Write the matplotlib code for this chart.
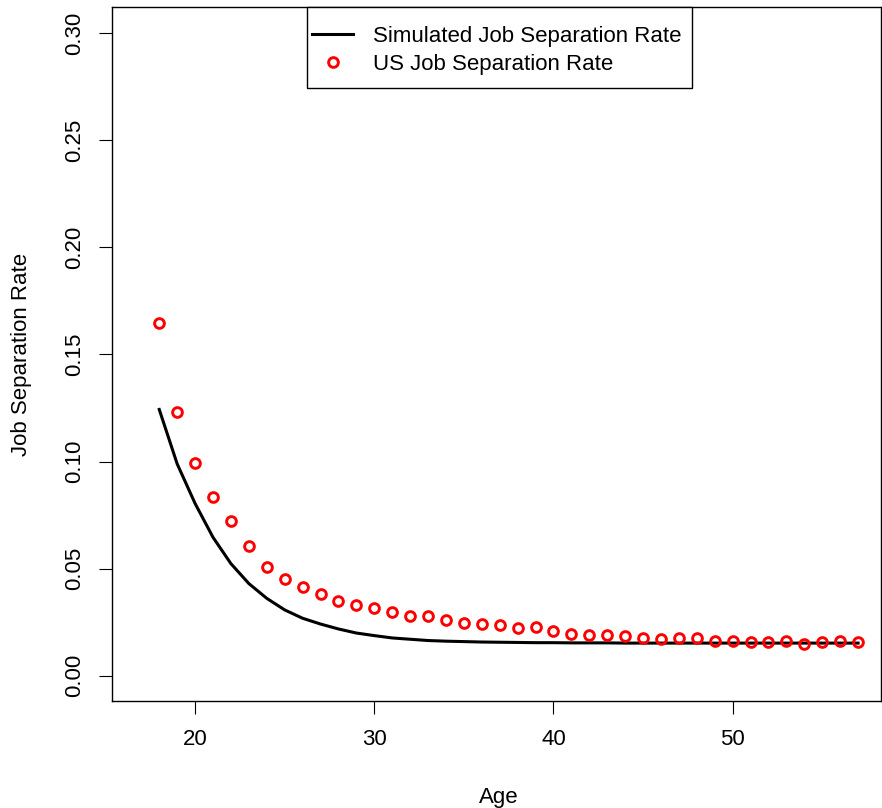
import matplotlib
matplotlib.use("Agg")
import matplotlib.pyplot as plt
from matplotlib.lines import Line2D
from matplotlib.patches import Rectangle

plt.rcParams['font.family'] = ['Liberation Sans', 'DejaVu Sans']

ages = list(range(18, 58))
us_rate = [0.1645, 0.1229, 0.0991, 0.0832, 0.0720, 0.0607, 0.0509, 0.0453, 0.0416, 0.0383,
           0.0350, 0.0332, 0.0318, 0.0299, 0.0280, 0.0280, 0.0262, 0.0248, 0.0243, 0.0238,
           0.0224, 0.0229, 0.0210, 0.0196, 0.0192, 0.0189, 0.0185, 0.0178, 0.0173, 0.0178,
           0.0174, 0.0164, 0.0164, 0.0158, 0.0159, 0.0164, 0.0149, 0.0157, 0.0163, 0.0156]
sim_rate = [0.1243, 0.0989, 0.0804, 0.0646, 0.0523, 0.0430, 0.0361, 0.0307, 0.0268, 0.0241,
            0.0218, 0.0199, 0.0187, 0.0176, 0.0170, 0.0164, 0.0161, 0.0159, 0.0157, 0.0156,
            0.0155, 0.0154, 0.0154, 0.0153, 0.0153, 0.0153, 0.0152, 0.0152, 0.0152, 0.0152,
            0.0152, 0.0152, 0.0152, 0.0152, 0.0152, 0.0152, 0.0152, 0.0152, 0.0152, 0.0152]
x_ticks = [20, 30, 40, 50]
y_ticks = [0.00, 0.05, 0.10, 0.15, 0.20, 0.25, 0.30]
y_tick_labels = ["0.00", "0.05", "0.10", "0.15", "0.20", "0.25", "0.30"]
legend_labels = ["Simulated Job Separation Rate", "US Job Separation Rate"]

W, H = 882, 808
FS = 16
fig = plt.figure(figsize=(W / 100, H / 100), dpi=100)
ax = fig.add_axes([112.3 / W, 1 - 700.7 / H, (881 - 112.3) / W, (700.7 - 7.3) / H])

ax.plot(ages, sim_rate, color='black', lw=2.2)
ax.plot(ages, us_rate, linestyle='none', marker='o', ms=7, mew=2.1,
        markerfacecolor='none', markeredgecolor='red')

ax.set_xlim(15.38, 58.28)
ax.set_ylim(-0.0117, 0.3121)
ax.set_xticks(x_ticks)
ax.set_xticklabels([str(t) for t in x_ticks])
ax.set_yticks(y_ticks)
ax.set_yticklabels(y_tick_labels, rotation=90, va='center')
ax.tick_params(axis='both', direction='out', length=9.5, width=0.8, labelsize=FS, colors='black')
ax.tick_params(axis='x', pad=11)
ax.tick_params(axis='y', pad=10.3)
for s in ax.spines.values():
    s.set_linewidth(1.0)
    s.set_color('black')

fig.text(499 / W, 1 - 803.3 / H, 'Age', ha='center', va='baseline', fontsize=FS)
fig.text(22 / W, 1 - 354 / H, 'Job Separation Rate', ha='center', va='center',
         rotation=90, fontsize=FS)

# legend drawn in figure pixel coordinates (R-style legend box)
def fx(px):
    return px / W

def fy(py):
    return 1 - py / H

fig.add_artist(Rectangle((fx(306.7), fy(87.7)), fx(691.7) - fx(306.7), fy(7.3) - fy(87.7),
                         transform=fig.transFigure, facecolor='white', edgecolor='black',
                         lw=1.0, zorder=5))
fig.add_artist(Line2D([fx(311.7), fx(353.3)], [fy(34.3), fy(34.3)], transform=fig.transFigure,
                      color='black', lw=2.2, zorder=6))
fig.add_artist(Line2D([fx(332.5)], [fy(61.7)], transform=fig.transFigure, linestyle='none',
                      marker='o', ms=7, mew=2.1, markerfacecolor='none',
                      markeredgecolor='red', zorder=6))
fig.text(fx(373), fy(34.3), legend_labels[0], ha='left', va='center_baseline', fontsize=FS, zorder=7)
fig.text(fx(373), fy(61.7), legend_labels[1], ha='left', va='center_baseline', fontsize=FS, zorder=7)

fig.savefig('out.png', dpi=100)
